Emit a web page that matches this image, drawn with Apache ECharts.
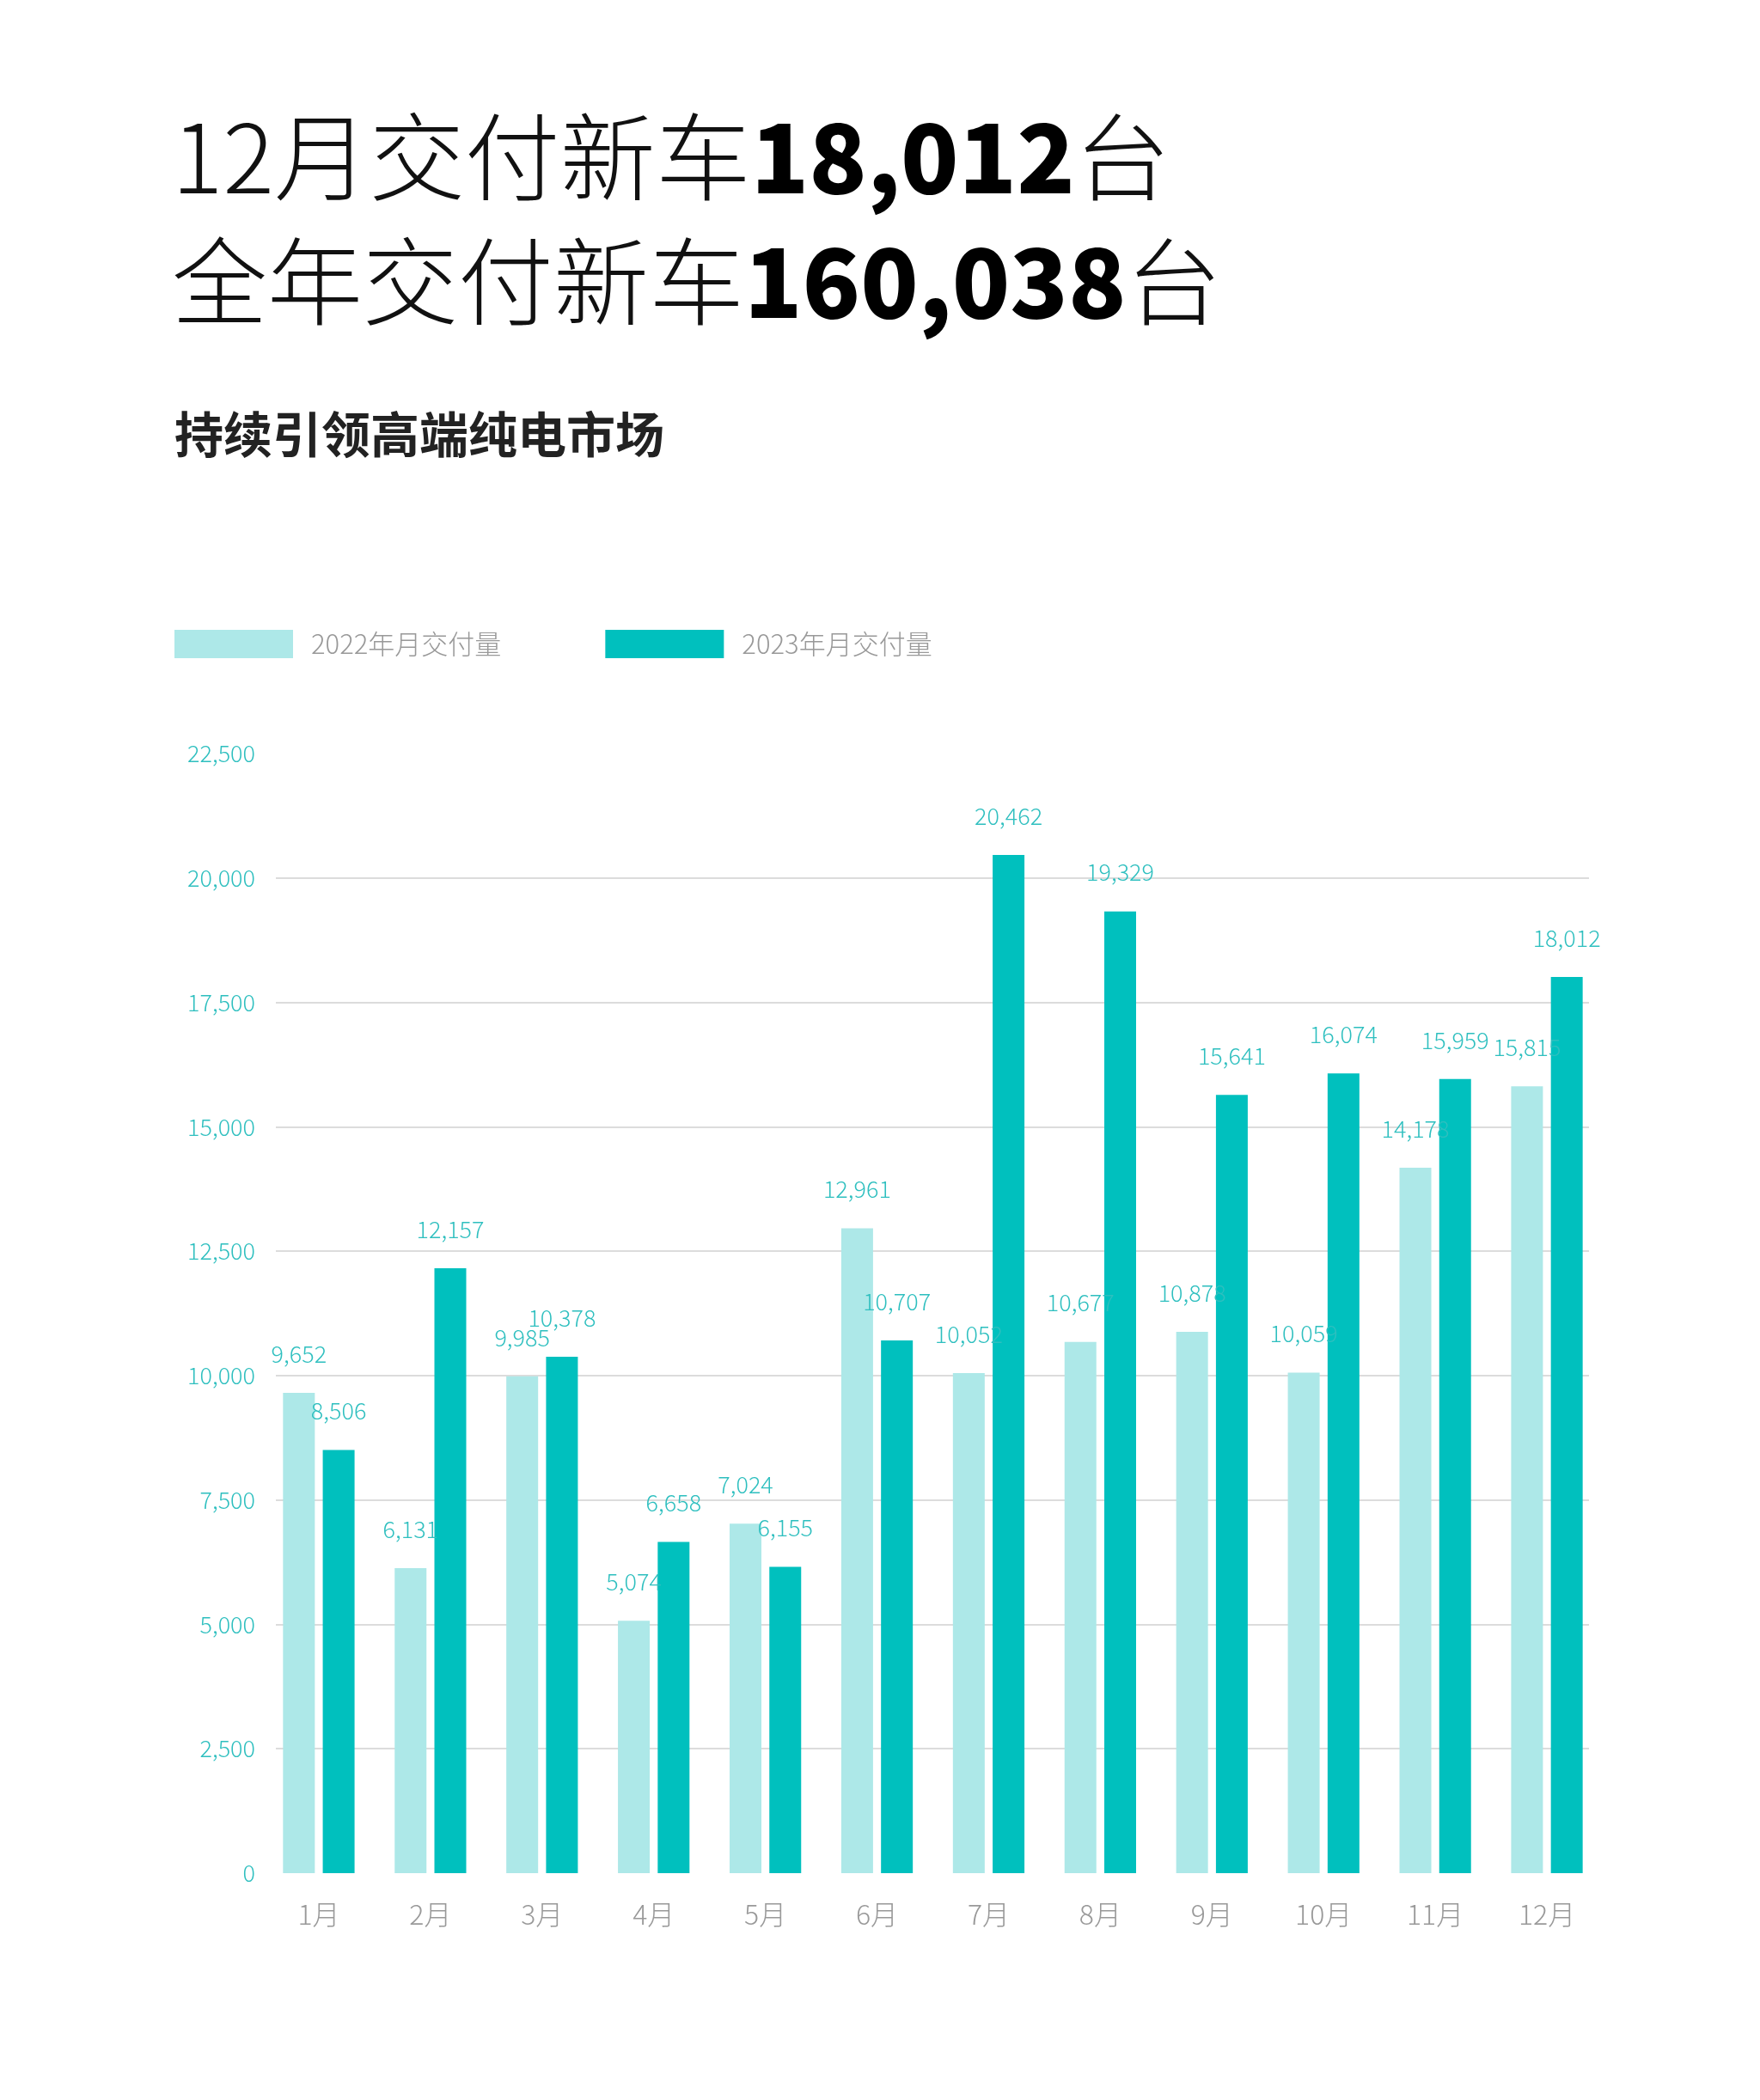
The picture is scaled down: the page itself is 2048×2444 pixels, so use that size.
<!DOCTYPE html>
<html>
  <head>
    <meta charset="utf-8" />
    <title>交付量</title>
    <script src="https://cdn.jsdelivr.net/npm/echarts@6/dist/echarts.min.js"></script>
    <style>
      html, body { margin: 0; padding: 0; background: #fff; }
    </style>
  </head>
  <body>
    <div id="main" style="width: 2048px;height:2444px;"></div>
    <script type="text/javascript">
      // 数据
      var months = ["1月", "2月", "3月", "4月", "5月", "6月", "7月", "8月", "9月", "10月", "11月", "12月"];
      var data2022 = [9652, 6131, 9985, 5074, 7024, 12961, 10052, 10677, 10878, 10059, 14178, 15815];
      var data2023 = [8506, 12157, 10378, 6658, 6155, 10707, 20462, 19329, 15641, 16074, 15959, 18012];
      var seriesNames = ["2022年月交付量", "2023年月交付量"];

      var FONT = "'Noto Sans CJK SC', 'Noto Sans', sans-serif";
      var labelColor = "#2ebfbf";
      var gridColor = "#dcdcdc";
      var clear = "rgba(0,0,0,0)";

      var myChart = echarts.init(document.getElementById("main"));

      function fmt(v) {
        return echarts.format.addCommas(v);
      }

      var barLabel = {
        show: true,
        position: "top",
        distance: 32,
        fontFamily: FONT,
        fontSize: 27,
        fontWeight: 300,
        color: labelColor,
        formatter: function(p) {
          return fmt(p.value);
        }
      };

      var option = {
        backgroundColor: "#fff",
        animation: false,
        title: [
          {
            left: 195,
            top: 105,
            text:
              "{a|12月交付新车}{b|18,012}{a|台}\n{a|全年交付新车}{b|160,038}{a|台}",
            textStyle: {
              rich: {
                a: {
                  fontFamily: FONT,
                  fontSize: 111,
                  fontWeight: 300,
                  color: "#111",
                  lineHeight: 145
                },
                b: {
                  fontFamily: FONT,
                  fontSize: 111,
                  fontWeight: 900,
                  color: "#000",
                  lineHeight: 145
                }
              }
            }
          },
          {
            left: 198,
            top: 468,
            text: "持续引领高端纯电市场",
            textStyle: {
              fontFamily: FONT,
              fontSize: 57,
              fontWeight: "bold",
              color: "#222",
              lineHeight: 64
            }
          }
        ],
        legend: {
          left: 198,
          top: 728,
          itemWidth: 138,
          itemHeight: 33,
          itemGap: 121,
          icon: "rect",
          textStyle: {
            fontFamily: FONT,
            fontSize: 31,
            fontWeight: 300,
            color: "#999",
            padding: [0, 0, 0, 16]
          },
          data: seriesNames
        },
        // grid 0: 柱子; grid 1: 网格线和纵轴刻度
        grid: [
          { left: 306, right: 183, top: 877, bottom: 264 },
          { left: 321, right: 199, top: 877, bottom: 264 }
        ],
        xAxis: [
          {
            type: "category",
            gridIndex: 0,
            data: months,
            axisLine: { show: false },
            axisTick: { show: false },
            axisLabel: {
              margin: 32,
              fontFamily: FONT,
              fontSize: 32,
              fontWeight: 300,
              color: "#999"
            }
          },
          {
            type: "category",
            gridIndex: 1,
            data: months,
            show: false
          }
        ],
        yAxis: [
          {
            type: "value",
            gridIndex: 0,
            min: 0,
            max: 22500,
            interval: 2500,
            show: false,
            splitLine: { show: false }
          },
          {
            type: "value",
            gridIndex: 1,
            min: 0,
            max: 22500,
            interval: 2500,
            axisLine: { show: false },
            axisTick: { show: false },
            axisLabel: {
              margin: 24,
              fontFamily: FONT,
              fontSize: 27,
              fontWeight: 300,
              color: labelColor,
              formatter: function(v) {
                return fmt(v);
              }
            },
            splitLine: {
              show: true,
              lineStyle: {
                // 0 和顶部不画线
                color: [clear, gridColor, gridColor, gridColor, gridColor, gridColor, gridColor, gridColor, gridColor, clear],
                width: 2
              }
            }
          }
        ],
        series: [
          {
            name: seriesNames[0],
            type: "bar",
            xAxisIndex: 0,
            yAxisIndex: 0,
            data: data2022,
            barWidth: 37,
            barGap: "25%",
            itemStyle: { color: "#ade8e8" },
            label: barLabel
          },
          {
            name: seriesNames[1],
            type: "bar",
            xAxisIndex: 0,
            yAxisIndex: 0,
            data: data2023,
            barWidth: 37,
            barGap: "25%",
            itemStyle: { color: "#00c0be" },
            label: barLabel
          }
        ]
      };

      myChart.setOption(option);
    </script>
  </body>
</html>
